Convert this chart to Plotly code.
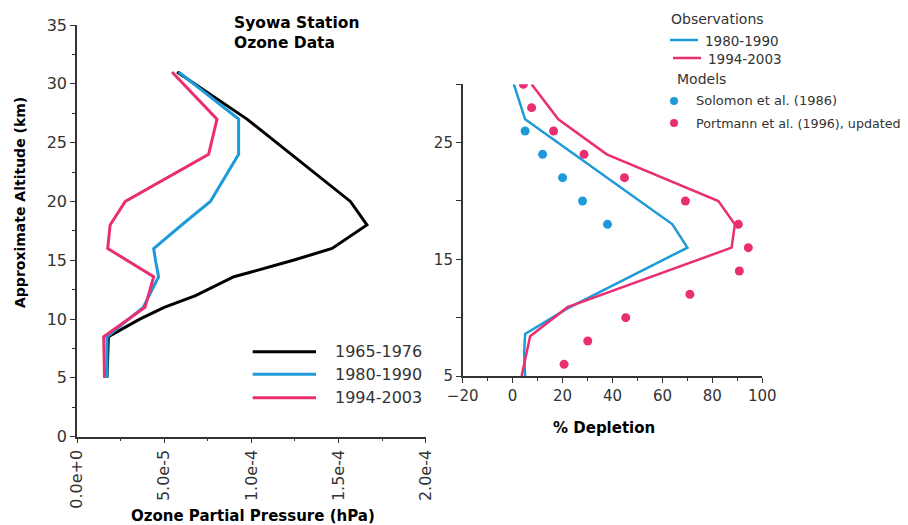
import plotly.graph_objects as go

W, H = 908, 525
FONT = "DejaVu Sans"
BLUE = "#1E9AD8"
PINK = "#EA2E72"
BLACK = "#000000"
AXC = "#333333"

# ---------------- Left panel: ozone partial pressure profiles ----------------
alt_1965 = [31, 27, 20, 18, 16, 15, 14, 13.6, 12, 11, 10, 8.5, 5]
pp_1965 = [5.74e-5, 9.75e-5, 1.568e-4, 1.663e-4, 1.463e-4, 1.24e-4, 1.0e-4, 0.9e-4, 0.68e-4, 0.5e-4, 0.36e-4, 0.18e-4, 0.172e-4]

alt_1980 = [31, 27, 24, 20, 18, 16, 15, 13.6, 11, 8.5, 5]
pp_1980 = [5.83e-5, 9.27e-5, 9.27e-5, 7.65e-5, 6.0e-5, 4.4e-5, 4.5e-5, 4.68e-5, 3.8e-5, 1.72e-5, 1.72e-5]

alt_1994 = [31, 27, 24, 20, 18, 16, 13.6, 11, 8.5, 5]
pp_1994 = [5.45e-5, 8.03e-5, 7.55e-5, 2.77e-5, 1.9e-5, 1.76e-5, 4.4e-5, 3.9e-5, 1.53e-5, 1.58e-5]

left_xticks = [0, 5e-5, 1e-4, 1.5e-4, 2e-4]
left_xtext = ["0.0e+0", "5.0e-5", "1.0e-4", "1.5e-4", "2.0e-4"]
left_yticks = [0, 5, 10, 15, 20, 25, 30, 35]

# ---------------- Right panel: % depletion ----------------
obs80_alt = [30, 27, 18, 16, 10.8, 8.6, 7, 5]
obs80_dep = [0.5, 5, 64, 70, 22, 5, 4.6, 5]

obs94_alt = [30, 27, 24, 20, 18, 16, 10.9, 8.4, 5]
obs94_dep = [7.6, 18.3, 37.7, 82.4, 89, 87.7, 22, 7, 3.6]

solomon_alt = [26, 24, 22, 20, 18]
solomon_dep = [5, 12, 20, 28, 38]

portmann_alt = [30, 28, 26, 24, 22, 20, 18, 16, 14, 12, 10, 8, 6]
portmann_dep = [4.3, 7.6, 16.4, 28.6, 44.8, 69.2, 90.4, 94.4, 90.8, 71, 45.3, 30.1, 20.6]

right_xticks = [-20, 0, 20, 40, 60, 80, 100]
right_yticks = [5, 10, 15, 20, 25, 30]
right_ytext = ["5", "", "15", "", "25", ""]

fig = go.Figure()

fig.add_trace(go.Scatter(x=pp_1965, y=alt_1965, mode="lines", name="1965-1976",
                         line=dict(color=BLACK, width=3), xaxis="x", yaxis="y"))
fig.add_trace(go.Scatter(x=pp_1980, y=alt_1980, mode="lines", name="1980-1990",
                         line=dict(color=BLUE, width=3), xaxis="x", yaxis="y"))
fig.add_trace(go.Scatter(x=pp_1994, y=alt_1994, mode="lines", name="1994-2003",
                         line=dict(color=PINK, width=3), xaxis="x", yaxis="y"))

fig.add_trace(go.Scatter(x=obs80_dep, y=obs80_alt, mode="lines", name="1980-1990",
                         line=dict(color=BLUE, width=2.5), xaxis="x2", yaxis="y2"))
fig.add_trace(go.Scatter(x=obs94_dep, y=obs94_alt, mode="lines", name="1994-2003",
                         line=dict(color=PINK, width=2.5), xaxis="x2", yaxis="y2"))
fig.add_trace(go.Scatter(x=solomon_dep, y=solomon_alt, mode="markers", name="Solomon et al. (1986)",
                         marker=dict(color=BLUE, size=9), xaxis="x2", yaxis="y2"))
fig.add_trace(go.Scatter(x=portmann_dep, y=portmann_alt, mode="markers", name="Portmann et al. (1996), updated",
                         marker=dict(color=PINK, size=9), xaxis="x2", yaxis="y2"))


def px(x):
    return x / W


def py(y):
    return 1 - y / H


def axis_style(size):
    return dict(showgrid=False, zeroline=False, showline=True, linecolor=AXC, linewidth=1.5,
                ticks="outside", ticklen=5, tickwidth=1.2, tickcolor=AXC, automargin=False,
                tickfont=dict(family=FONT, size=size, color="#333333"))


fig.update_layout(
    template="none",
    width=W, height=H,
    margin=dict(l=0, r=0, t=0, b=0, pad=0),
    paper_bgcolor="white", plot_bgcolor="white",
    font=dict(family=FONT, color="#000000"),
    showlegend=False,
    xaxis=dict(domain=[px(77), px(425.7)], range=[0, 2e-4], anchor="y",
               tickvals=left_xticks, ticktext=left_xtext, tickangle=-90,
               minor=dict(ticks="outside", ticklen=3, dtick=2.5e-5, tickcolor=AXC, tick0=0),
               **axis_style(16)),
    yaxis=dict(domain=[py(436.7), py(25)], range=[0, 35], anchor="x",
               tickvals=left_yticks,
               minor=dict(ticks="outside", ticklen=3, dtick=2.5, tickcolor=AXC, tick0=0),
               **axis_style(16)),
    xaxis2=dict(domain=[px(462.7), px(762.3)], range=[-20, 100], anchor="y2",
                tickvals=right_xticks,
                minor=dict(ticks="outside", ticklen=3, dtick=10, tickcolor=AXC, tick0=0),
                **axis_style(15)),
    yaxis2=dict(domain=[py(376), py(84.3)], range=[5, 30], anchor="x2",
                tickvals=right_yticks, ticktext=right_ytext,
                **axis_style(15)),
)

ann = []
# Titles
ann.append(dict(x=px(232), y=py(33), xref="paper", yref="paper", xanchor="left", yanchor="middle",
                text="<b>Syowa Station<br>Ozone Data</b>", align="left", showarrow=False,
                font=dict(family=FONT, size=15.5, color="#000000")))
ann.append(dict(x=px(20), y=py(203), xref="paper", yref="paper", xanchor="center", yanchor="middle",
                text="<b>Approximate Altitude (km)</b>", textangle=-90, showarrow=False,
                font=dict(family=FONT, size=14, color="#000000")))
ann.append(dict(x=px(253), y=py(516), xref="paper", yref="paper", xanchor="center", yanchor="middle",
                text="<b>Ozone Partial Pressure (hPa)</b>", showarrow=False,
                font=dict(family=FONT, size=15, color="#000000")))
ann.append(dict(x=px(604), y=py(428), xref="paper", yref="paper", xanchor="center", yanchor="middle",
                text="<b>% Depletion</b>", showarrow=False,
                font=dict(family=FONT, size=15, color="#000000")))

shapes = []
# Left legend
left_leg = [("1965-1976", BLACK, 351.7), ("1980-1990", BLUE, 374.3), ("1994-2003", PINK, 397.7)]
for label, col, yy in left_leg:
    shapes.append(dict(type="line", xref="paper", yref="paper", x0=px(252.7), x1=px(316),
                       y0=py(yy), y1=py(yy), line=dict(color=col, width=3)))
    ann.append(dict(x=px(333), y=py(yy), xref="paper", yref="paper", xanchor="left", yanchor="middle",
                    text=label, showarrow=False, font=dict(family=FONT, size=16, color="#333333")))

# Right legend
ann.append(dict(x=px(669), y=py(19), xref="paper", yref="paper", xanchor="left", yanchor="middle",
                text="Observations", showarrow=False, font=dict(family=FONT, size=14, color="#333333")))
shapes.append(dict(type="line", xref="paper", yref="paper", x0=px(670), x1=px(698),
                   y0=py(40), y1=py(40), line=dict(color=BLUE, width=2.5)))
ann.append(dict(x=px(703), y=py(41), xref="paper", yref="paper", xanchor="left", yanchor="middle",
                text="1980-1990", showarrow=False, font=dict(family=FONT, size=13.5, color="#333333")))
shapes.append(dict(type="line", xref="paper", yref="paper", x0=px(673), x1=px(701),
                   y0=py(58), y1=py(58), line=dict(color=PINK, width=2.5)))
ann.append(dict(x=px(706), y=py(59), xref="paper", yref="paper", xanchor="left", yanchor="middle",
                text="1994-2003", showarrow=False, font=dict(family=FONT, size=13.5, color="#333333")))
ann.append(dict(x=px(675), y=py(79), xref="paper", yref="paper", xanchor="left", yanchor="middle",
                text="Models", showarrow=False, font=dict(family=FONT, size=14, color="#333333")))
for yy, col, label, fs in [(101, BLUE, "Solomon et al. (1986)", 13),
                           (123, PINK, "Portmann et al. (1996), updated", 12.7)]:
    shapes.append(dict(type="circle", xref="paper", yref="paper",
                       x0=px(674 - 4), x1=px(674 + 4), y0=py(yy + 4), y1=py(yy - 4),
                       fillcolor=col, line=dict(color=col, width=0)))
    ann.append(dict(x=px(694), y=py(yy), xref="paper", yref="paper", xanchor="left", yanchor="middle",
                    text=label, showarrow=False, font=dict(family=FONT, size=fs, color="#333333")))

fig.update_layout(annotations=ann, shapes=shapes)

fig.write_html("out.html")
